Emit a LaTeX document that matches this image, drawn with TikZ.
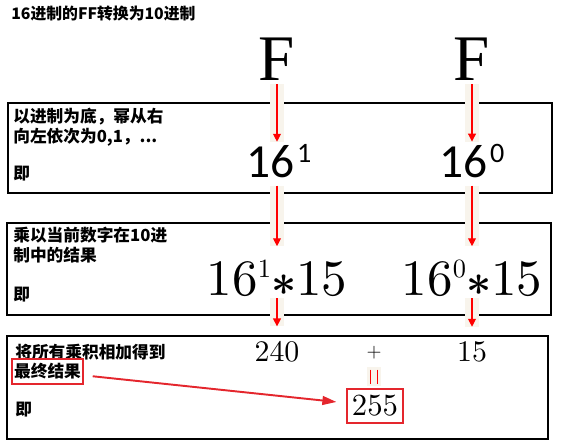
\documentclass[tikz,border=0pt]{standalone}
\usepackage{fontspec}
\newfontfamily\cjk{Noto Sans CJK SC}
\newfontfamily\calibri{Carlito}
\newfontfamily\timesF{Liberation Serif}
\newfontfamily\lmten{lmroman10-regular.otf}
\usepackage{tikz}
\usetikzlibrary{positioning, arrows.meta}
\definecolor{strip}{RGB}{248,244,236}
\definecolor{markred}{RGB}{228,38,45}
\tikzstyle{panel} = [rectangle, draw=black, line width=0.7pt, minimum width=10.88cm, inner sep=0pt]
\tikzstyle{note} = [anchor=west, inner sep=0pt, align=left, font=\cjk\bfseries\fontsize{9.5}{11.3}\selectfont]
\tikzstyle{digit} = [anchor=base, inner sep=0pt]
\tikzstyle{redbox} = [draw=markred, line width=1.1pt, inner sep=0pt]
\tikzstyle{arrow} = [red, line width=0.6pt, -{Triangle[length=4.5pt,width=4.5pt]}, preaction={draw=strip, line width=8pt, -}]
\tikzstyle{pointer} = [draw=markred, line width=1.1pt, -{Triangle[length=8pt,width=5pt]}, shorten <=5pt, shorten >=5.5pt]

\begin{document}
\begin{tikzpicture}[x=0.02cm, y=-0.02cm]
		\useasboundingbox (0,0) rectangle (563,444);
		
		% Panels
		\node (panelA) [panel, minimum height=1.8cm] at (280,148) {};
		\node (panelB) [panel, minimum height=1.84cm] at (279,269) {};
		\node (panelC) [panel, minimum width=10.82cm, minimum height=2.06cm] at (277.5,387.5) {};
		
		% Notes
		\node (title) [note, font=\cjk\bfseries\fontsize{9}{11}\selectfont] at (11,14) {16进制的FF转换为10进制};
		\node (noteA) [note] at (13,127) {以进制为底，幂从右\\向左依次为0,1，...};
		\node (jiA) [note] at (13,174) {即};
		\node (noteB) [note] at (13,245) {乘以当前数字在10进\\制中的结果};
		\node (jiB) [note] at (13,295) {即};
		\node (noteC) [note] at (15,352) {将所有乘积相加得到};
		\node (fin) [redbox, minimum width=1.42cm, minimum height=0.5cm, font=\cjk\bfseries\fontsize{9.5}{11}\selectfont] at (47.5,371.5) {最终结果};
		\node (jiC) [note] at (15,410) {即};
		
		% Columns
		\node (F1) [digit, font=\timesF\fontsize{37}{40}\selectfont] at (277,80) {F};
		\node (F2) [digit, font=\timesF\fontsize{37}{40}\selectfont] at (472,80) {F};
		\node (p1) [digit, font=\calibri\fontsize{27}{30}\selectfont] at (279,177) {16\kern1.5pt\raisebox{8.5pt}{\fontsize{16}{18}\selectfont 1}};
		\node (p2) [digit, font=\calibri\fontsize{27}{30}\selectfont] at (472,177) {16\kern1.5pt\raisebox{8.5pt}{\fontsize{16}{18}\selectfont 0}};
		\node (m1) [digit, font=\lmten\fontsize{29}{34}\selectfont] at (277,295) {16\raisebox{10.2pt}{\fontsize{15}{17}\selectfont 1}{\boldmath$\ast$}15};
		\node (m2) [digit, font=\lmten\fontsize{29}{34}\selectfont] at (472,295) {16\raisebox{10.2pt}{\fontsize{15}{17}\selectfont 0}{\boldmath$\ast$}15};
		\node (r1) [digit, font=\lmten\fontsize{17}{20}\selectfont] at (277,361) {240};
		\node (plus) [digit, font=\fontsize{11}{13}\selectfont] at (374,357) {$+$};
		\node (r2) [digit, font=\lmten\fontsize{17}{20}\selectfont] at (472,361) {15};
		\node (eq) [fill=strip, minimum width=0.28cm, minimum height=0.38cm, inner sep=0pt,
			path picture={
				\draw [red, line width=0.6pt] ([xshift=-2.2pt, yshift=-1.7pt]path picture bounding box.north) -- ([xshift=-2.2pt, yshift=0.6pt]path picture bounding box.south);
				\draw [red, line width=0.6pt] ([xshift=2.2pt, yshift=-1.7pt]path picture bounding box.north) -- ([xshift=2.2pt, yshift=0.6pt]path picture bounding box.south);
			}] at (374,376) {};
		\node (res) [redbox, minimum width=1.12cm, minimum height=0.68cm, font=\lmten\fontsize{17.5}{20}\selectfont] at (375,406) {255};
		
		% Arrows
		\draw [arrow, shorten <=2.3pt, shorten >=1.1pt] (F1) -- (F1 |- p1.north);
		\draw [arrow, shorten <=2.3pt, shorten >=1.1pt] (F2) -- (F2 |- p2.north);
		\draw [arrow, shorten <=4.5pt, shorten >=7.4pt] (p1.south -| F1) -- (m1);
		\draw [arrow, shorten <=4.5pt, shorten >=7.4pt] (p2.south -| F2) -- (m2);
		\draw [arrow, shorten <=1.1pt, shorten >=8pt] (m1) -- (r1);
		\draw [arrow, shorten <=1.1pt, shorten >=8pt] (m2) -- (r2);
		\draw [pointer] (fin) -- (res);
		
	\end{tikzpicture}
\end{document}
